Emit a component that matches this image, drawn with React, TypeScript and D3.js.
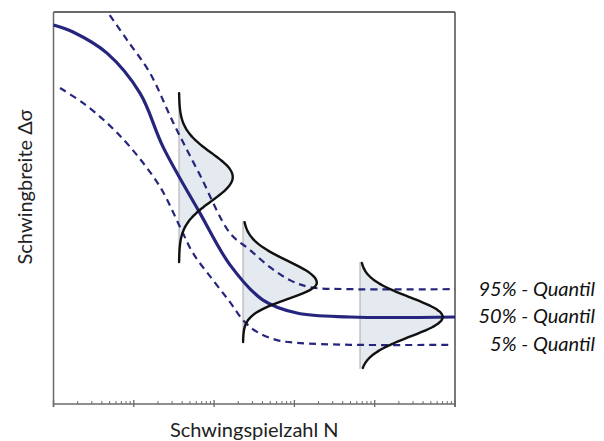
import React from 'react';
import * as d3 from 'd3';

// Quantile curves: [log10 N, Δσ] (Δσ in arbitrary units 0..100)
const median50 = [
  [3.0, 96.7], [3.243, 94.9], [3.666, 89.5], [4.077, 79.3], [4.364, 65.6],
  [4.824, 48.7], [5.198, 35.5], [5.609, 26.5], [6.032, 23.2], [6.692, 22.2], [8.0, 22.2],
];
const upper95 = [
  [3.70, 99.2], [3.915, 92.9], [4.202, 84.4], [4.488, 71.9], [4.824, 58.4],
  [5.198, 43.6], [5.447, 39.3], [5.696, 34.9], [5.945, 31.6], [6.194, 29.8], [6.692, 29.3], [8.0, 29.3],
];
const lower5 = [
  [3.081, 80.6], [3.367, 76.8], [3.666, 71.7], [3.953, 65.6], [4.327, 55.4], [4.575, 45.2],
  [4.737, 38.5], [4.986, 31.6], [5.198, 26.0], [5.36, 21.4], [5.534, 18.4], [5.783, 16.3],
  [6.032, 15.6], [6.692, 15.1], [7.95, 15.1],
];

// Scatter distributions drawn at three load levels
const distBaseLogN = [4.563, 5.36, 6.817];
const distAmpDecades = [0.67, 0.92, 1.03];
const distCenter = [57.9, 30.9, 22.2];
const distSigmaUp = [6.1, 5.6, 5.0];
const distSigmaDown = [6.1, 4.1, 5.0];
const distTop = [79.3, 46.4, 36.0];
const distBottom = [36.2, 15.8, 9.2];

const quantileLabels = ['95% - Quantil', '50% - Quantil', '5% - Quantil'];
const quantileLevels = [29.3, 22.2, 15.1];

const xLabel = 'Schwingspielzahl N';
const yLabel = 'Schwingbreite Δσ';

const NAVY = '#25257d';
const FONT = 'Lato, "Open Sans", sans-serif';

export default function App() {
  const width = 604;
  const height = 441;
  const margin = { top: 12, right: 149, bottom: 37, left: 53.5 };
  const x0 = margin.left;
  const x1 = width - margin.right;
  const y0 = height - margin.bottom;
  const y1 = margin.top;

  const xScale = d3.scaleLog().domain([1e3, 1e8]).range([x0, x1]);
  const yScale = d3.scaleLinear().domain([0, 100]).range([y0, y1]);

  const line = d3.line<number[]>()
    .x(d => xScale(Math.pow(10, d[0])))
    .y(d => yScale(d[1]))
    .curve(d3.curveCatmullRom.alpha(0.5));

  const minorTicks = xScale.ticks().filter(t => Math.abs(Math.log10(t) % 1) > 1e-6);
  const majorTicks = d3.range(3, 9).map(p => Math.pow(10, p));

  const dists = distBaseLogN.map((base, i) => {
    const ys = d3.range(0, 81).map(k => distBottom[i] + (distTop[i] - distBottom[i]) * k / 80);
    const pts = ys.map(v => {
      const s = v >= distCenter[i] ? distSigmaUp[i] : distSigmaDown[i];
      const g = Math.exp(-((v - distCenter[i]) ** 2) / (2 * s * s));
      return { v, logN: base + distAmpDecades[i] * g };
    });
    const area = d3.area<{ v: number; logN: number }>()
      .y(d => yScale(d.v))
      .x0(() => xScale(Math.pow(10, base)))
      .x1(d => xScale(Math.pow(10, d.logN)))
      .curve(d3.curveBasis);
    const curve = d3.line<{ v: number; logN: number }>()
      .x(d => xScale(Math.pow(10, d.logN)))
      .y(d => yScale(d.v))
      .curve(d3.curveBasis);
    return { base, area: area(pts), curve: curve(pts) };
  });

  return (
    <svg width={width} height={height} style={{ position: 'absolute', left: 0, top: 0, background: '#fff' }}>
      {/* frame */}
      <line x1={x0} x2={x1} y1={y1} y2={y1} stroke="#6a6a6a" strokeWidth={1.8} />
      <line x1={x1} x2={x1} y1={y1} y2={y0 + 3} stroke="#6a6a6a" strokeWidth={1.8} />
      <line x1={x0} x2={x0} y1={y1} y2={y0 + 3} stroke="#6a6a6a" strokeWidth={1.5} />
      <line x1={x0} x2={x1} y1={y0} y2={y0} stroke="#6a6a6a" strokeWidth={1.3} />
      {minorTicks.map((t, i) => (
        <line key={'m' + i} x1={xScale(t)} x2={xScale(t)} y1={y0} y2={y0 - 3} stroke="#6a6a6a" strokeWidth={1} />
      ))}
      {majorTicks.map((t, i) => (
        <line key={'M' + i} x1={xScale(t)} x2={xScale(t)} y1={y0 - 4} y2={y0 + 3} stroke="#6a6a6a" strokeWidth={1.3} />
      ))}

      {/* distributions: fill and base line */}
      {dists.map((d, i) => (
        <g key={'df' + i}>
          <path d={d.area ?? ''} fill="#e5e9f0" />
          <line
            x1={xScale(Math.pow(10, d.base))} x2={xScale(Math.pow(10, d.base))}
            y1={yScale(distTop[i]) - 1} y2={yScale(distBottom[i]) + 1}
            stroke="#a9a9a9" strokeWidth={1}
          />
        </g>
      ))}

      {/* quantile curves */}
      <path d={line(upper95) ?? ''} fill="none" stroke={NAVY} strokeWidth={2.2} strokeDasharray="7,5" />
      <path d={line(lower5) ?? ''} fill="none" stroke={NAVY} strokeWidth={2.2} strokeDasharray="7,5" />
      <path d={line(median50) ?? ''} fill="none" stroke={NAVY} strokeWidth={3.2} />

      {/* distribution outlines */}
      {dists.map((d, i) => (
        <path key={'dc' + i} d={d.curve ?? ''} fill="none" stroke="#111" strokeWidth={2.4} strokeLinecap="round" />
      ))}

      {/* quantile labels */}
      {quantileLabels.map((lab, i) => (
        <text key={lab} x={595} y={yScale(quantileLevels[i]) + 6.5} textAnchor="end"
          fontFamily={FONT} fontStyle="italic" fontSize={20} fill="#111">{lab}</text>
      ))}

      {/* axis titles */}
      <text x={(x0 + x1) / 2} y={437} textAnchor="middle" fontFamily={FONT} fontSize={20} fill="#222">{xLabel}</text>
      <text transform={`translate(32,187) rotate(-90)`} textAnchor="middle"
        fontFamily={FONT} fontSize={20} fill="#222">{yLabel}</text>
    </svg>
  );
}
